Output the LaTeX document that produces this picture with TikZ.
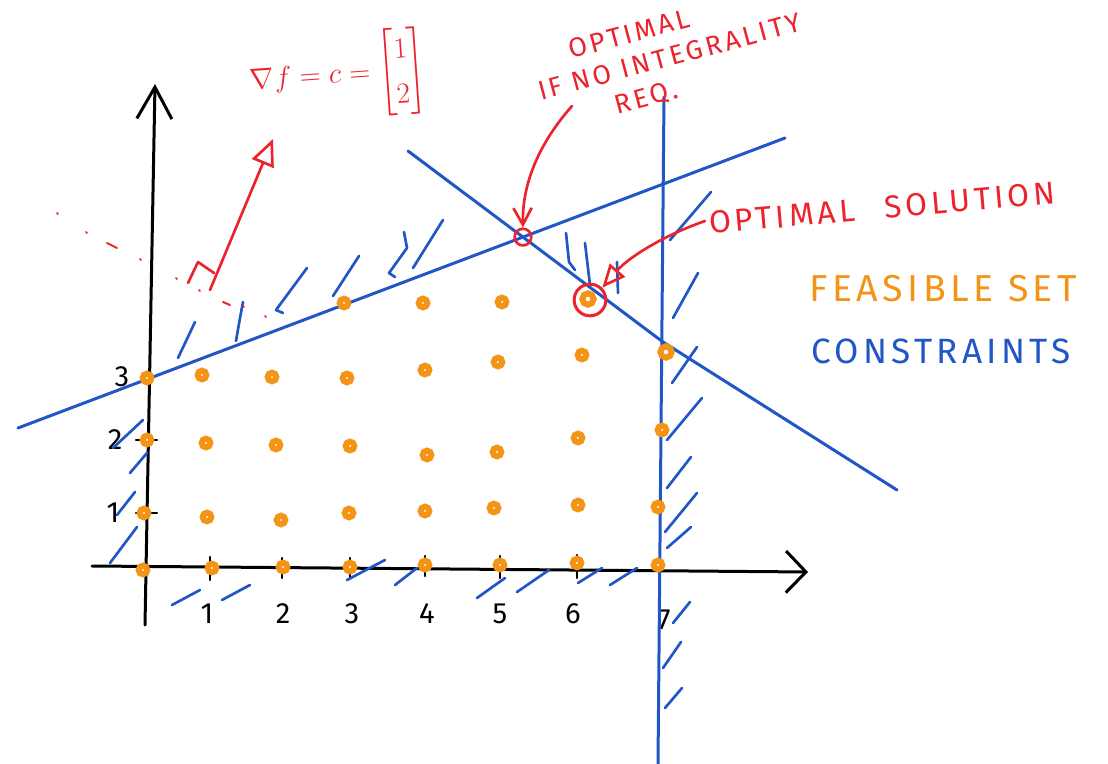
\documentclass[tikz,border=0pt]{standalone}
\usepackage{amsmath}
\usepackage{fontspec}
\setmainfont{Fira Sans}
\newfontfamily\handfont[LetterSpace=12]{Fira Sans}
\usepackage{xcolor}
\usetikzlibrary{arrows.meta}

\definecolor{penblue}{RGB}{32,86,198}
\definecolor{penred}{RGB}{236,34,44}
\definecolor{penorange}{RGB}{243,148,22}

\begin{document}
\begin{tikzpicture}[x=0.03cm,y=-0.03cm,
  pt/.style={circle,draw=penorange,fill=white,line width=0.18cm,minimum size=0.26cm,inner sep=0pt},
  cons/.style={draw=penblue,line width=0.09cm,line cap=round,line join=round},
  hatch/.style={draw=penblue,line width=0.08cm,line cap=round,line join=round},
  axis/.style={draw=black,line width=0.09cm,line cap=round,line join=round},
  pen/.style={draw=penred,line width=0.08cm,line cap=round,line join=round},
  note/.style={text=penred,font=\handfont\fontsize{23}{28}\selectfont,inner sep=0pt},
  legend/.style={font=\handfont\fontsize{31}{36}\selectfont,inner sep=0pt},
  ticklbl/.style={font=\handfont\fontsize{25}{30}\selectfont,inner sep=0pt}]
\useasboundingbox (0,0) rectangle (1108,764);

% axes
\coordinate (xaxs) at (92,566);
\coordinate (xaxe) at (808,572);
\coordinate (yaxs) at (145,625);
\coordinate (yaxe) at (155,84);
\draw[axis,-{Straight Barb[length=0.6cm,width=1.25cm,line width=0.09cm]}] (xaxs) -- (xaxe);
\draw[axis,-{Straight Barb[length=0.95cm,width=1.05cm,line width=0.09cm]}] (yaxs) -- (yaxe);
\draw[axis,line width=0.07cm] (210,557) -- (210,580) (282,558) -- (282,578) (350,558) -- (350,578)
  (425,556) -- (425,576) (500,556) -- (500,578) (577,555) -- (577,578);
\draw[axis,line width=0.07cm] (136,440) -- (157,440) (136,513) -- (157,513);
\node[ticklbl] (xl1) at (207,614) {1};
\node[ticklbl] (xl2) at (283,614) {2};
\node[ticklbl] (xl3) at (352,614) {3};
\node[ticklbl] (xl4) at (427,614) {4};
\node[ticklbl] (xl5) at (500,614) {5};
\node[ticklbl] (xl6) at (573,614) {6};
\node[ticklbl] (xl7) at (664,620) {7};
\node[ticklbl] (yl3) at (122,377) {3};
\node[ticklbl] (yl2) at (115,440) {2};
\node[ticklbl] (yl1) at (113,513) {1};

% constraints
\coordinate (c1a) at (18,428);
\coordinate (c1b) at (785,138);
\coordinate (c2a) at (408,151);
\coordinate (c2m) at (663,342);
\coordinate (c2b) at (897,490);
\coordinate (c3a) at (664,97);
\coordinate (c3b) at (658,764);
\draw[cons] (c1a) -- (c1b);
\draw[cons] (c2a) -- (c2m) -- (c2b);
\draw[cons] (c3a) -- (c3b);

% hatching
\draw[hatch] (178,358) -- (195,322);
\draw[hatch] (236,341) -- (240,318) -- (243,302);
\draw[hatch] (283,313) -- (276,310) -- (307,268);
\draw[hatch] (333,296) -- (359,256);
\draw[hatch] (395,277) -- (389,273) -- (407,248) -- (404,232);
\draw[hatch] (413,268) -- (443,220);
\draw[hatch] (566,233) -- (569,262) -- (575,270);
\draw[hatch] (585,243) -- (590,285);
\draw[hatch] (617,262) -- (618,293);
\draw[hatch] (670,240) -- (711,192);
\draw[hatch] (673,318) -- (698,273);
\draw[hatch] (672,383) -- (697,347);
\draw[hatch] (667,440) -- (702,398);
\draw[hatch] (667,488) -- (691,457);
\draw[hatch] (665,532) -- (697,493);
\draw[hatch] (667,548) -- (691,527);
\draw[hatch] (673,623) -- (690,602);
\draw[hatch] (663,668) -- (681,642);
\draw[hatch] (665,708) -- (682,688);
\draw[hatch] (172,605) -- (200,590);
\draw[hatch] (222,600) -- (250,585);
\draw[hatch] (347,580) -- (385,560);
\draw[hatch] (395,585) -- (417,568);
\draw[hatch] (477,598) -- (505,578);
\draw[hatch] (517,592) -- (549,570);
\draw[hatch] (578,583) -- (602,568);
\draw[hatch] (610,585) -- (637,568);
\draw[hatch] (113,448) -- (143,420);
\draw[hatch] (130,473) -- (147,453);
\draw[hatch] (117,515) -- (135,492);
\draw[hatch] (110,563) -- (137,527);

% feasible integer points
\node[pt] (p00) at (143,570) {};
\node[pt] (p10) at (212,568) {};
\node[pt] (p20) at (283,567) {};
\node[pt] (p30) at (350,567) {};
\node[pt] (p40) at (425,565) {};
\node[pt] (p50) at (500,565) {};
\node[pt] (p60) at (577,563) {};
\node[pt] (p70) at (658,565) {};
\node[pt] (p01) at (144,513) {};
\node[pt] (p11) at (207,517) {};
\node[pt] (p21) at (281,520) {};
\node[pt] (p31) at (349,513) {};
\node[pt] (p41) at (425,511) {};
\node[pt] (p51) at (494,508) {};
\node[pt] (p61) at (578,505) {};
\node[pt] (p71) at (658,507) {};
\node[pt] (p02) at (147,440) {};
\node[pt] (p12) at (206,443) {};
\node[pt] (p22) at (276,445) {};
\node[pt] (p32) at (350,446) {};
\node[pt] (p42) at (427,455) {};
\node[pt] (p52) at (497,452) {};
\node[pt] (p62) at (578,438) {};
\node[pt] (p72) at (662,430) {};
\node[pt] (p03) at (147,378) {};
\node[pt] (p13) at (202,375) {};
\node[pt] (p23) at (272,377) {};
\node[pt] (p33) at (347,378) {};
\node[pt] (p43) at (425,370) {};
\node[pt] (p53) at (498,362) {};
\node[pt] (p63) at (582,355) {};
\node[pt,minimum size=0.34cm] (p73) at (666,352) {};
\node[pt] (p34) at (344,303) {};
\node[pt] (p44) at (423,303) {};
\node[pt] (p54) at (502,302) {};
\node[pt,minimum size=0.34cm] (p64) at (588,299) {};

% optima
\node[circle,draw=penred,line width=0.08cm,minimum size=0.5cm,inner sep=0pt] (lpopt)
  at (intersection of c1a--c1b and c2a--c2m) {};
\node[circle,draw=penred,line width=0.09cm,minimum size=0.95cm,inner sep=0pt] (ipopt) at (590,300) {};

% objective
\coordinate (gbase) at (210,290);
\coordinate (gtip) at (273,139);
\draw[pen,-{Triangle[open,length=0.8cm,width=0.7cm,line width=0.08cm]}] (gbase) -- (gtip);
\draw[pen] (188,283) -- (198,262) -- (214,273);
\draw[pen,line width=0.06cm] (57,213) -- (58,214) (86,232) -- (87,233) (107,243) -- (117,248)
  (140,259) -- (141,260) (176,278) -- (177,279) (199,290) -- (200,291) (223,302) -- (230,305)
  (243,306) -- (244,307) (265,316) -- (266,317);
\node[text=penred,rotate=4,inner sep=0pt,font=\fontsize{32}{38}\selectfont] (grad) at (338,76)
  {$\nabla f = c = \begin{bmatrix}1\\2\end{bmatrix}$};

% annotations
\node[note,rotate=15,align=left] (lpnote) at (670,58)
  {\hspace*{1.2cm}OPTIMAL\\IF NO INTEGRALITY\\\hspace*{2.1cm}REQ.};
\coordinate (lparr) at (572,106);
\draw[pen,-{Straight Barb[length=0.5cm,width=0.55cm,line width=0.08cm]}] (lparr) .. controls (542,140) and (522,180) .. (lpopt.north);
\node[legend,text=penred,rotate=5,font=\handfont\fontsize{27}{32}\selectfont] (optsol) at (882,208) {OPTIMAL\hspace{0.9cm}SOLUTION};
\coordinate (iparr) at (705,221);
\draw[pen,-{Triangle[open,length=0.7cm,width=0.6cm,line width=0.08cm]}] (iparr) .. controls (662,236) and (628,258) .. (ipopt.north east);
\node[legend,text=penorange,font=\handfont\fontsize{32}{38}\selectfont] (feas) at (943,289) {FEASIBLE SET};
\node[legend,text=penblue,font=\handfont\fontsize{30}{36}\selectfont] (cons) at (941,351) {CONSTRAINTS};
\end{tikzpicture}
\end{document}
